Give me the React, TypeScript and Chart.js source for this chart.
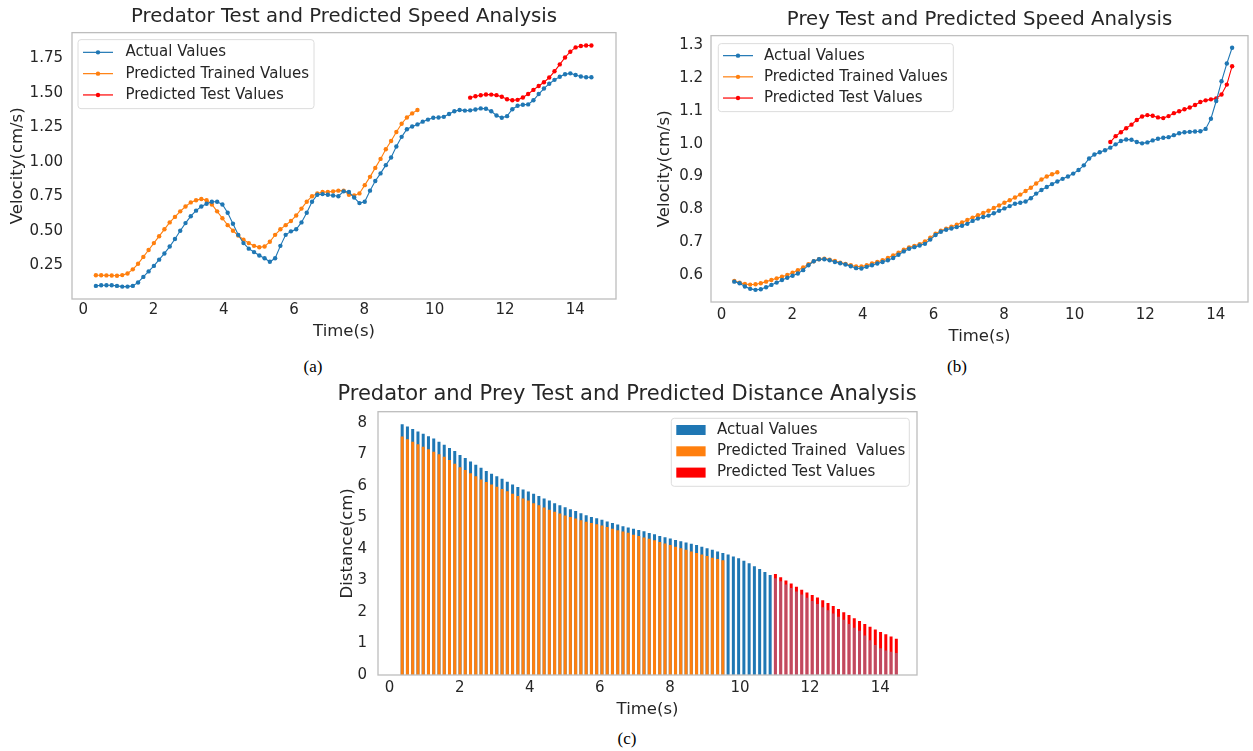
import React, { useEffect, useRef } from "react";
import { Chart, registerables } from "chart.js";

Chart.register(...registerables);

// ---------------- DATA ----------------
const times = [
  0.36, 0.51, 0.66, 0.81, 0.96, 1.11, 1.26, 1.41, 1.56, 1.71,
  1.86, 2.01, 2.16, 2.31, 2.46, 2.61, 2.76, 2.91, 3.06, 3.21,
  3.36, 3.51, 3.66, 3.81, 3.96, 4.11, 4.26, 4.41, 4.56, 4.71,
  4.86, 5.01, 5.16, 5.31, 5.46, 5.61, 5.76, 5.91, 6.06, 6.21,
  6.36, 6.51, 6.66, 6.81, 6.96, 7.11, 7.26, 7.41, 7.56, 7.71,
  7.86, 8.01, 8.16, 8.31, 8.46, 8.61, 8.76, 8.91, 9.06, 9.21,
  9.36, 9.51, 9.66, 9.81, 9.96, 10.11, 10.26, 10.41, 10.56, 10.71,
  10.86, 11.01, 11.16, 11.31, 11.46, 11.61, 11.76, 11.91, 12.06, 12.21,
  12.36, 12.51, 12.66, 12.81, 12.96, 13.11, 13.26, 13.41, 13.56, 13.71,
  13.86, 14.01, 14.16, 14.31, 14.46,
];
const trainTimes = times.slice(0, 62);
const testTimes = times.slice(71);

const predatorActual = [
  0.10, 0.105, 0.105, 0.105, 0.10, 0.095, 0.095, 0.10, 0.125, 0.165,
  0.205, 0.245, 0.29, 0.335, 0.385, 0.44, 0.50, 0.555, 0.605, 0.645,
  0.675, 0.695, 0.71, 0.71, 0.69, 0.63, 0.55, 0.47, 0.41, 0.37,
  0.345, 0.32, 0.30, 0.275, 0.30, 0.39, 0.47, 0.495, 0.51, 0.56,
  0.63, 0.71, 0.76, 0.765, 0.76, 0.755, 0.75, 0.785, 0.78, 0.74,
  0.70, 0.71, 0.79, 0.86, 0.915, 0.975, 1.03, 1.11, 1.18, 1.235,
  1.255, 1.27, 1.29, 1.305, 1.318, 1.32, 1.325, 1.345, 1.365, 1.375,
  1.37, 1.372, 1.378, 1.386, 1.383, 1.365, 1.335, 1.318, 1.33, 1.38,
  1.405, 1.412, 1.415, 1.445, 1.49, 1.53, 1.565, 1.593, 1.615, 1.633,
  1.64, 1.628, 1.617, 1.612, 1.612,
];
const predatorTrained = [
  0.177, 0.177, 0.176, 0.175, 0.174, 0.178, 0.19, 0.22, 0.26, 0.31,
  0.36, 0.41, 0.46, 0.51, 0.56, 0.60, 0.64, 0.675, 0.705, 0.72,
  0.73, 0.72, 0.69, 0.64, 0.59, 0.54, 0.50, 0.465, 0.435, 0.41,
  0.39, 0.38, 0.385, 0.42, 0.47, 0.51, 0.54, 0.57, 0.61, 0.66,
  0.71, 0.75, 0.77, 0.78, 0.78, 0.785, 0.79, 0.79, 0.76, 0.755,
  0.77, 0.83, 0.89, 0.955, 1.02, 1.09, 1.15, 1.215, 1.275, 1.32,
  1.35, 1.375,
];
const predatorTest = [
  1.464, 1.474, 1.481, 1.487, 1.486, 1.482, 1.47, 1.452, 1.445, 1.448,
  1.465, 1.49, 1.52, 1.548, 1.575, 1.61, 1.655, 1.705, 1.755, 1.797,
  1.828, 1.838, 1.842, 1.842,
];

const preyActual = [
  0.58, 0.575, 0.565, 0.558, 0.555, 0.557, 0.563, 0.57, 0.577, 0.585,
  0.592, 0.598, 0.605, 0.615, 0.63, 0.642, 0.648, 0.648, 0.645, 0.64,
  0.636, 0.632, 0.627, 0.621, 0.62, 0.625, 0.63, 0.635, 0.64, 0.645,
  0.652, 0.662, 0.672, 0.68, 0.685, 0.69, 0.695, 0.708, 0.722, 0.732,
  0.738, 0.742, 0.746, 0.75, 0.756, 0.765, 0.772, 0.777, 0.781, 0.788,
  0.796, 0.803, 0.81, 0.817, 0.82, 0.824, 0.834, 0.848, 0.859, 0.868,
  0.877, 0.885, 0.893, 0.90, 0.909, 0.92, 0.934, 0.955, 0.967, 0.974,
  0.98, 0.988, 0.998, 1.008, 1.013, 1.012, 1.005, 1.001, 1.004, 1.01,
  1.015, 1.018, 1.02, 1.026, 1.032, 1.035, 1.036, 1.037, 1.038, 1.045,
  1.076, 1.13, 1.19, 1.244, 1.292,
];
const preyTrained = [
  0.582, 0.577, 0.573, 0.571, 0.572, 0.575, 0.58, 0.585, 0.59, 0.595,
  0.60, 0.607, 0.615, 0.623, 0.633, 0.642, 0.648, 0.65, 0.647, 0.643,
  0.638, 0.634, 0.63, 0.626, 0.626, 0.63, 0.635, 0.64, 0.645, 0.652,
  0.66, 0.668, 0.677, 0.684, 0.689, 0.694, 0.702, 0.714, 0.726, 0.735,
  0.741, 0.747, 0.753, 0.76, 0.768, 0.775, 0.782, 0.789, 0.796, 0.804,
  0.812, 0.82, 0.828, 0.836, 0.845, 0.856, 0.866, 0.879, 0.891, 0.90,
  0.907, 0.913,
];
const preyTest = [
  1.005, 1.023, 1.035, 1.047, 1.058, 1.072, 1.083, 1.087, 1.085, 1.08,
  1.078, 1.084, 1.093, 1.099, 1.105, 1.11, 1.118, 1.127, 1.132, 1.135,
  1.138, 1.15, 1.18, 1.236,
];

const distanceActual = [
  7.95, 7.88, 7.8, 7.72, 7.65, 7.57, 7.5, 7.4, 7.3, 7.2,
  7.1, 6.98, 6.88, 6.77, 6.67, 6.57, 6.47, 6.38, 6.3, 6.22,
  6.13, 6.04, 5.96, 5.88, 5.82, 5.75, 5.68, 5.6, 5.53, 5.45,
  5.38, 5.32, 5.26, 5.2, 5.13, 5.07, 5.01, 4.97, 4.92, 4.87,
  4.82, 4.77, 4.72, 4.68, 4.64, 4.6, 4.56, 4.5, 4.46, 4.41,
  4.37, 4.33, 4.28, 4.24, 4.2, 4.16, 4.12, 4.07, 4.02, 3.97,
  3.92, 3.87, 3.82, 3.76, 3.7, 3.62, 3.54, 3.45, 3.36, 3.27,
  3.17, 3.07, 2.97, 2.87, 2.76, 2.65, 2.55, 2.45, 2.35, 2.25,
  2.15, 2.05, 1.95, 1.85, 1.75, 1.62, 1.5, 1.4, 1.25, 1.1,
  0.95, 0.85, 0.78, 0.74, 0.7,
];
const distanceTrained = [
  7.56, 7.48, 7.4, 7.32, 7.24, 7.16, 7.08, 7.0, 6.92, 6.82,
  6.7, 6.59, 6.5, 6.4, 6.3, 6.2, 6.12, 6.04, 5.97, 5.9,
  5.83, 5.75, 5.68, 5.6, 5.53, 5.45, 5.38, 5.31, 5.24, 5.18,
  5.12, 5.06, 5.01, 4.96, 4.91, 4.86, 4.82, 4.78, 4.74, 4.69,
  4.64, 4.59, 4.55, 4.51, 4.45, 4.41, 4.36, 4.32, 4.27, 4.22,
  4.17, 4.12, 4.07, 4.02, 3.97, 3.92, 3.87, 3.82, 3.77, 3.72,
  3.68, 3.64,
];
const distanceTest = [
  3.2, 3.1, 3.0, 2.9, 2.8, 2.7, 2.62, 2.54, 2.46, 2.37,
  2.28, 2.19, 2.09, 1.99, 1.9, 1.8, 1.71, 1.62, 1.53, 1.44,
  1.36, 1.29, 1.22, 1.15,
];

const timeTicks = [0, 2, 4, 6, 8, 10, 12, 14];
const predatorYTicks = [0.25, 0.5, 0.75, 1.0, 1.25, 1.5, 1.75];
const preyYTicks = [0.6, 0.7, 0.8, 0.9, 1.0, 1.1, 1.2, 1.3];
const distanceYTicks = [0, 1, 2, 3, 4, 5, 6, 7, 8];

const speedLabels = ["Actual Values", "Predicted Trained Values", "Predicted Test Values"];
const distanceLabels = ["Actual Values", "Predicted Trained  Values", "Predicted Test Values"];

// ---------------- STYLE ----------------
const BLUE = "#1f77b4";
const BLUE_UNDER_TEST = "rgba(130,145,190,0.5)";
const ORANGE = "#ff7f0e";
const RED = "#ff0000";
const TEXT = "#262626";
const FONT = "'DejaVu Sans', sans-serif";

Chart.defaults.font.family = FONT;
Chart.defaults.color = TEXT;

const pts = (xs: number[], ys: number[]) => ys.map((y, i) => ({ x: xs[i], y }));

const framePlugin = {
  id: "frame",
  afterDatasetsDraw(chart: any) {
    const { ctx, chartArea: a } = chart;
    ctx.save();
    ctx.strokeStyle = "#bdbdbd";
    ctx.lineWidth = 1.3;
    ctx.strokeRect(a.left, a.top, a.right - a.left, a.bottom - a.top);
    ctx.restore();
  },
};

const boxLegendPlugin = {
  id: "boxLegend",
  afterDraw(chart: any, _args: any, o: any) {
    if (!o || !o.display) return;
    const { ctx, chartArea: a } = chart;
    const x0 = o.anchor === "right" ? a.right - o.dx - o.width : a.left + o.dx;
    const y0 = a.top + o.dy;
    ctx.save();
    ctx.beginPath();
    const r = 3;
    ctx.moveTo(x0 + r, y0);
    ctx.arcTo(x0 + o.width, y0, x0 + o.width, y0 + o.height, r);
    ctx.arcTo(x0 + o.width, y0 + o.height, x0, y0 + o.height, r);
    ctx.arcTo(x0, y0 + o.height, x0, y0, r);
    ctx.arcTo(x0, y0, x0 + o.width, y0, r);
    ctx.closePath();
    ctx.fillStyle = "rgba(255,255,255,0.85)";
    ctx.fill();
    ctx.strokeStyle = "#dcdcdc";
    ctx.lineWidth = 1;
    ctx.stroke();
    chart.data.datasets.forEach((ds: any, i: number) => {
      const cy = y0 + o.firstRow + i * o.rowGap;
      const color = ds.legendColor || ds.borderColor;
      if (o.kind === "line") {
        ctx.strokeStyle = color;
        ctx.lineWidth = 1.2;
        ctx.beginPath();
        ctx.moveTo(x0 + o.sx0, cy);
        ctx.lineTo(x0 + o.sx1, cy);
        ctx.stroke();
        ctx.fillStyle = color;
        ctx.beginPath();
        ctx.arc(x0 + (o.sx0 + o.sx1) / 2, cy, 2.2, 0, Math.PI * 2);
        ctx.fill();
      } else {
        ctx.fillStyle = color;
        ctx.fillRect(x0 + o.sx0, cy - 5, o.sx1 - o.sx0, 10);
      }
      ctx.fillStyle = TEXT;
      ctx.font = `15px ${FONT}`;
      ctx.textBaseline = "middle";
      ctx.textAlign = "left";
      ctx.fillText(ds.label, x0 + o.tx, cy);
    });
    ctx.restore();
  },
};

type Box = {
  yWidth: number;
  xHeight: number;
  yTitlePad: number;
  yTickPad: number;
  xTickPad: number;
  xTitlePad: number;
};

function axes(
  xMin: number,
  xMax: number,
  yMin: number,
  yMax: number,
  yTicks: number[],
  yFmt: (v: number) => string,
  yTitle: string,
  b: Box
) {
  return {
    x: {
      type: "linear",
      min: xMin,
      max: xMax,
      offset: false,
      afterBuildTicks: (s: any) => {
        s.ticks = timeTicks.map((v) => ({ value: v }));
      },
      afterFit: (s: any) => {
        s.height = b.xHeight;
      },
      ticks: {
        font: { size: 15 },
        color: TEXT,
        padding: b.xTickPad,
        maxRotation: 0,
        autoSkip: false,
        callback: (v: number) => String(v),
      },
      grid: { display: false, drawTicks: false },
      border: { display: false },
      title: {
        display: true,
        text: "Time(s)",
        font: { size: 16.5 },
        color: TEXT,
        padding: { top: 0, bottom: b.xTitlePad },
      },
    },
    y: {
      type: "linear",
      min: yMin,
      max: yMax,
      afterBuildTicks: (s: any) => {
        s.ticks = yTicks.map((v) => ({ value: v }));
      },
      afterFit: (s: any) => {
        s.width = b.yWidth;
      },
      ticks: {
        font: { size: 15 },
        color: TEXT,
        padding: b.yTickPad,
        autoSkip: false,
        callback: (v: number) => yFmt(v),
      },
      grid: { display: false, drawTicks: false },
      border: { display: false },
      title: {
        display: true,
        text: yTitle,
        font: { size: 16.5 },
        color: TEXT,
        padding: { top: b.yTitlePad, bottom: 0 },
      },
    },
  };
}

function lineSet(label: string, xs: number[], ys: number[], color: string) {
  return {
    label,
    data: pts(xs, ys),
    borderColor: color,
    backgroundColor: color,
    pointBackgroundColor: color,
    pointBorderWidth: 0,
    pointRadius: 2.2,
    borderWidth: 1.1,
    tension: 0,
    fill: false,
  };
}

function makePredator() {
  return {
    type: "line",
    data: {
      datasets: [
        lineSet(speedLabels[0], times, predatorActual, BLUE),
        lineSet(speedLabels[1], trainTimes, predatorTrained, ORANGE),
        lineSet(speedLabels[2], testTimes, predatorTest, RED),
      ],
    },
    options: {
      responsive: false,
      animation: false,
      devicePixelRatio: 1,
      layout: { padding: { left: 0, right: 14, top: 0, bottom: 0 } },
      scales: axes(-0.32, 15.16, 0.005, 1.935, predatorYTicks, (v) => v.toFixed(2), "Velocity(cm/s)", {
        yWidth: 72, xHeight: 46, yTitlePad: 8, yTickPad: 9, xTickPad: 2, xTitlePad: 3,
      }),
      plugins: {
        legend: { display: false },
        tooltip: { enabled: false },
        title: {
          display: true,
          text: "Predator Test and Predicted Speed Analysis",
          font: { size: 19.7, weight: "normal" },
          color: TEXT,
          fullSize: false,
          padding: { top: 5, bottom: 4 },
        },
        boxLegend: {
          display: true, kind: "line", anchor: "left", dx: 6, dy: 7, width: 236, height: 69,
          firstRow: 12.7, rowGap: 21.3, sx0: 5, sx1: 35, tx: 47.4,
        },
      },
    },
    plugins: [framePlugin, boxLegendPlugin],
  };
}

function makePrey() {
  return {
    type: "line",
    data: {
      datasets: [
        lineSet(speedLabels[0], times, preyActual, BLUE),
        lineSet(speedLabels[1], trainTimes, preyTrained, ORANGE),
        lineSet(speedLabels[2], testTimes, preyTest, RED),
      ],
    },
    options: {
      responsive: false,
      animation: false,
      devicePixelRatio: 1,
      layout: { padding: { left: 0, right: 5, top: 0, bottom: 0 } },
      scales: axes(-0.3, 14.91, 0.518, 1.329, preyYTicks, (v) => v.toFixed(1), "Velocity(cm/s)", {
        yWidth: 81, xHeight: 45, yTitlePad: 25, yTickPad: 8, xTickPad: 4, xTitlePad: 0,
      }),
      plugins: {
        legend: { display: false },
        tooltip: { enabled: false },
        title: {
          display: true,
          text: "Prey Test and Predicted Speed Analysis",
          font: { size: 19.7, weight: "normal" },
          color: TEXT,
          fullSize: false,
          padding: { top: 8, bottom: 4 },
        },
        boxLegend: {
          display: true, kind: "line", anchor: "left", dx: 7.3, dy: 8, width: 235, height: 68,
          firstRow: 12, rowGap: 21.2, sx0: 4.7, sx1: 34.7, tx: 45.7,
        },
      },
    },
    plugins: [framePlugin, boxLegendPlugin],
  };
}

function makeDistance() {
  return {
    type: "bar",
    data: {
      datasets: [
        {
          label: distanceLabels[0],
          data: pts(times, distanceActual),
          backgroundColor: (c: any) => (c.dataIndex < 71 ? BLUE : BLUE_UNDER_TEST),
          legendColor: BLUE,
          borderWidth: 0,
          barThickness: 3,
          inflateAmount: 0,
          order: 2,
        },
        {
          label: distanceLabels[1],
          data: pts(trainTimes, distanceTrained),
          backgroundColor: ORANGE,
          legendColor: ORANGE,
          borderWidth: 0,
          barThickness: 3,
          inflateAmount: 0,
          order: 1,
        },
        {
          label: distanceLabels[2],
          data: pts(testTimes, distanceTest),
          backgroundColor: RED,
          legendColor: RED,
          borderWidth: 0,
          barThickness: 3,
          inflateAmount: 0,
          order: 3,
        },
      ],
    },
    options: {
      responsive: false,
      animation: false,
      devicePixelRatio: 1,
      datasets: { bar: { grouped: false } },
      layout: { padding: { left: 37, right: 37, top: 0, bottom: 0 } },
      scales: axes(-0.33, 15.05, 0, 8.35, distanceYTicks, (v) => String(v), "Distance(cm)", {
        yWidth: 41, xHeight: 48, yTitlePad: 1, yTickPad: 11, xTickPad: 4, xTitlePad: 3,
      }),
      plugins: {
        legend: { display: false },
        tooltip: { enabled: false },
        title: {
          display: true,
          text: "Predator and Prey Test and Predicted Distance Analysis",
          font: { size: 21, weight: "normal" },
          color: TEXT,
          fullSize: true,
          padding: { top: 4, bottom: 4.5 },
        },
        boxLegend: {
          display: true, kind: "bar", anchor: "right", dx: 7.7, dy: 6.6, width: 238, height: 68,
          firstRow: 11.7, rowGap: 21.3, sx0: 5, sx1: 34.3, tx: 45.6,
        },
      },
    },
    plugins: [framePlugin, boxLegendPlugin],
  };
}

function ChartBox(props: { left: number; top: number; width: number; height: number; make: () => any }) {
  const ref = useRef<HTMLCanvasElement>(null);
  useEffect(() => {
    const chart = new Chart(ref.current as HTMLCanvasElement, props.make());
    return () => chart.destroy();
  }, []);
  return (
    <canvas
      ref={ref}
      width={props.width}
      height={props.height}
      style={{ position: "absolute", left: props.left, top: props.top, width: props.width, height: props.height }}
    />
  );
}

function Caption(props: { x: number; y: number; text: string }) {
  return (
    <div
      style={{
        position: "absolute",
        left: props.x,
        top: props.y,
        transform: "translate(-50%, -50%)",
        fontFamily: "'Liberation Serif', 'Times New Roman', serif",
        fontSize: 17,
        color: "#000",
        whiteSpace: "nowrap",
      }}
    >
      {props.text}
    </div>
  );
}

export default function App() {
  return (
    <div style={{ position: "absolute", left: 0, top: 0, width: 1253, height: 751, background: "#fff", overflow: "hidden" }}>
      <ChartBox left={0} top={0} width={630} height={345} make={makePredator} />
      <ChartBox left={630} top={0} width={623} height={347} make={makePrey} />
      <ChartBox left={300} top={378} width={654} height={345} make={makeDistance} />
      <Caption x={313} y={367} text="(a)" />
      <Caption x={957} y={367} text="(b)" />
      <Caption x={627} y={739} text="(c)" />
    </div>
  );
}
